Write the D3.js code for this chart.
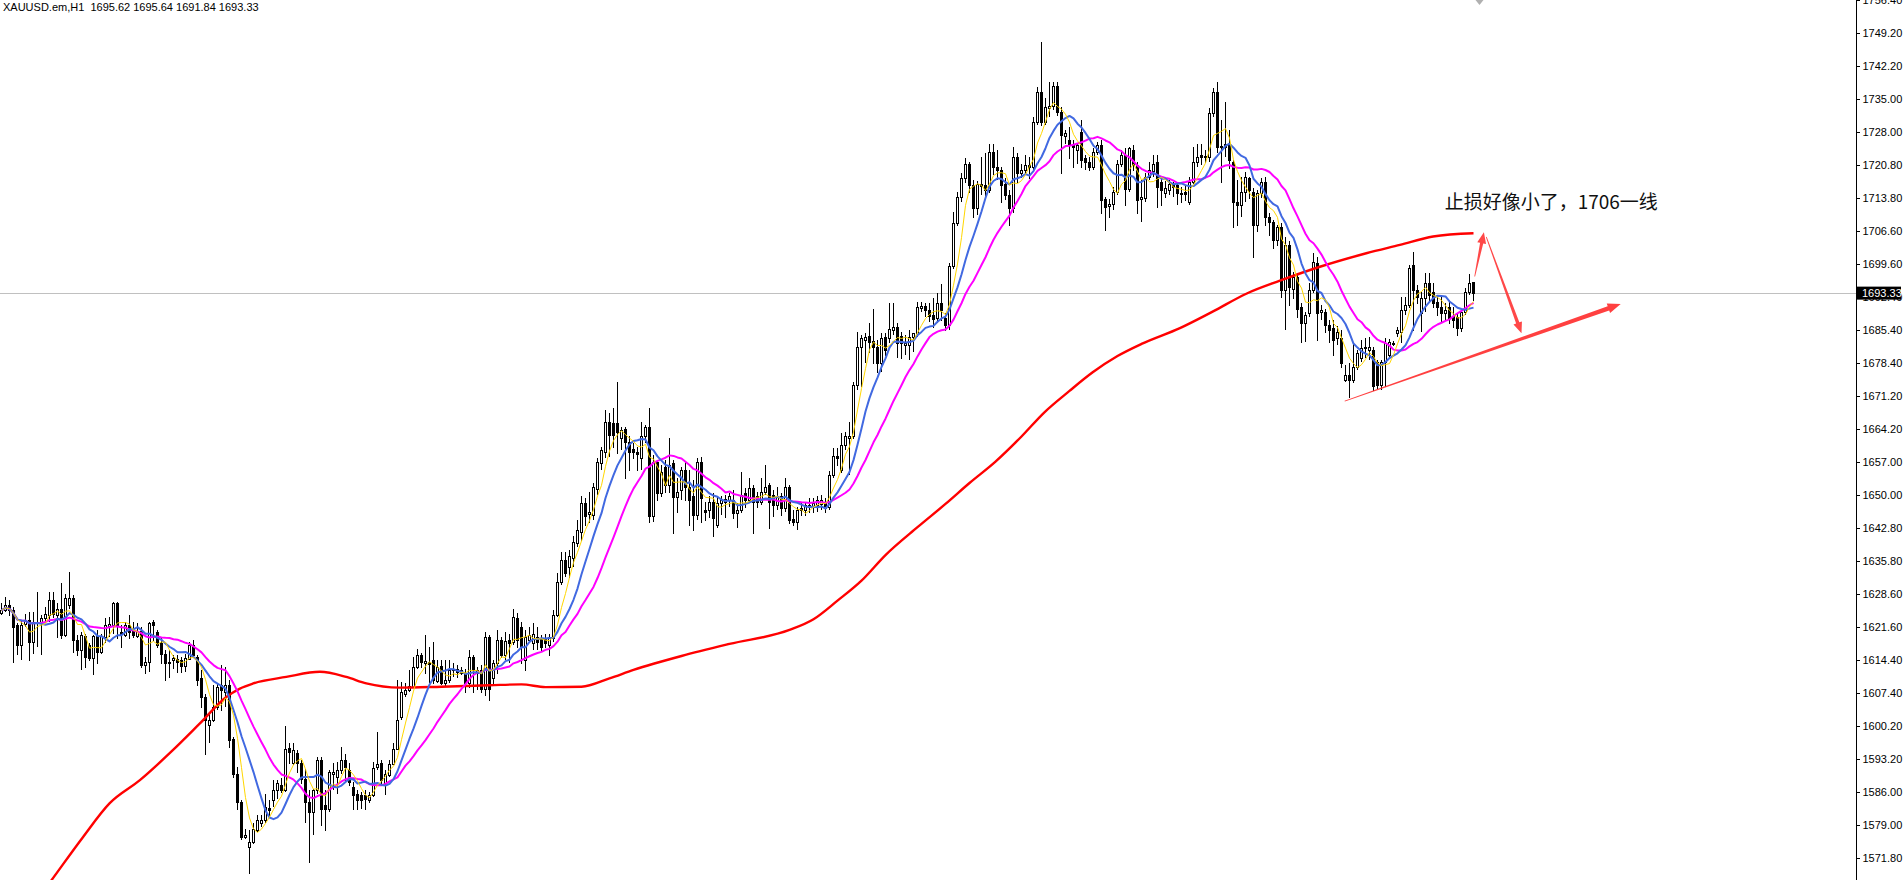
<!DOCTYPE html>
<html><head><meta charset="utf-8">
<script src="https://cdn.jsdelivr.net/npm/d3@7"></script>
<style>
html,body{margin:0;padding:0;background:#fff;overflow:hidden}
svg{display:block}
.axis text,.ttl{font-family:"Liberation Sans Narrow","Arial Narrow","Liberation Sans",Arial,sans-serif;font-size:11px;fill:#000}
</style>
</head><body>
<svg id="chart" width="1904" height="880"></svg>
<script>
// ---------------- data ----------------
const symbolTitle = "XAUUSD.em,H1";
const titleValues = ["1695.62","1695.64","1691.84","1693.33"];
const bidPrice = 1693.33;

const opens = [
1624.6,1625.1,1626.2,1625.1,1621.9,1617.6,1622.2,1623.0,1618.3,1622.3,1622.6,1623.4,1624.1,1627.3,1624.1,1625.5,1619.8,1626.2,1627.7,1618.7,
1616.5,1619.6,1617.6,1614.8,1619.6,1616.2,1619.4,1621.7,1621.9,1626.6,1620.5,1619.8,1621.9,1620.8,1619.6,1620.7,1613.3,1614.0,1622.6,1620.5,
1618.0,1615.8,1614.0,1614.4,1614.6,1614.4,1613.1,1614.6,1617.6,1615.1,1610.5,1606.5,1600.4,1601.5,1604.4,1609.0,1607.6,1609.0,1597.5,1590.0,
1583.9,1576.4,1574.3,1575.3,1577.8,1579.3,1580.0,1582.7,1584.3,1586.4,1587.5,1586.4,1595.6,1592.2,1594.5,1592.2,1588.9,1583.9,1581.8,1586.4,
1592.9,1583.2,1582.3,1590.0,1589.3,1590.7,1592.9,1590.7,1587.2,1585.7,1585.4,1585.4,1584.3,1585.4,1591.5,1592.2,1587.9,1589.7,1592.0,1595.4,
1602.2,1607.2,1607.9,1608.7,1613.0,1615.5,1613.8,1614.0,1614.5,1610.0,1613.1,1609.5,1610.1,1612.3,1612.6,1611.7,1611.7,1609.4,1615.1,1611.7,
1612.2,1608.3,1619.4,1610.5,1613.7,1618.7,1615.5,1618.7,1618.3,1623.5,1621.6,1614.4,1618.7,1618.0,1619.4,1619.1,1619.2,1617.6,1619.1,1624.1,
1631.3,1635.9,1634.5,1636.3,1639.5,1642.0,1648.1,1645.9,1645.6,1651.3,1656.7,1659.2,1665.7,1665.3,1665.3,1662.1,1664.2,1661.4,1659.9,1659.2,
1657.8,1662.5,1664.6,1645.3,1657.1,1650.3,1656.0,1652.1,1656.7,1649.4,1651.0,1655.3,1651.7,1649.6,1645.6,1657.1,1646.7,1646.7,1648.5,1643.5,
1648.1,1648.5,1648.8,1648.8,1646.0,1646.7,1650.3,1648.8,1651.4,1649.6,1648.5,1650.6,1652.1,1649.9,1647.8,1649.6,1647.1,1651.6,1644.7,1644.2,
1647.1,1646.8,1647.8,1647.4,1647.8,1648.0,1648.1,1647.4,1654.2,1658.2,1655.3,1660.7,1662.2,1662.5,1673.6,1681.8,1683.2,1684.1,1683.1,1681.8,
1678.2,1684.0,1683.6,1685.4,1686.1,1684.1,1682.1,1682.1,1684.0,1684.5,1690.1,1690.5,1689.8,1688.6,1687.9,1691.3,1687.9,1686.5,1699.2,1708.5,
1714.1,1718.0,1721.2,1716.6,1711.6,1716.8,1716.6,1715.5,1723.7,1720.5,1719.8,1716.9,1714.4,1711.6,1722.7,1719.1,1719.8,1720.9,1720.5,1730.2,
1736.6,1730.2,1733.2,1733.5,1737.9,1732.3,1727.1,1726.3,1725.2,1724.1,1728.0,1722.3,1721.6,1720.5,1723.7,1725.2,1713.5,1712.0,1712.6,1715.0,
1721.2,1723.0,1715.8,1724.1,1720.9,1713.6,1713.7,1718.3,1719.6,1721.5,1717.3,1714.8,1715.6,1716.8,1716.6,1714.9,1715.1,1713.0,1717.3,1721.5,
1723.0,1722.8,1722.5,1732.0,1736.6,1725.0,1724.8,1725.5,1721.6,1713.0,1712.3,1715.1,1718.0,1715.1,1708.0,1714.8,1717.3,1709.8,1708.7,1704.7,
1707.6,1694.0,1703.7,1694.3,1696.9,1690.4,1686.8,1689.0,1694.0,1699.9,1689.3,1689.3,1686.5,1685.8,1683.7,1683.6,1674.6,1675.7,1674.6,1677.5,
1679.3,1681.8,1681.1,1681.1,1678.6,1673.6,1678.6,1680.0,1682.5,1684.7,1685.0,1689.7,1690.8,1699.4,1694.0,1689.0,1692.2,1695.4,1693.6,1691.5,
1690.4,1689.0,1690.4,1688.4,1688.3,1685.8,1689.3,1693.6,1695.62];

const highs = [
1626.6,1628.0,1627.3,1625.9,1622.3,1623.0,1624.4,1624.8,1624.8,1629.1,1624.1,1625.9,1629.1,1629.1,1626.6,1630.9,1628.7,1633.4,1628.4,1619.8,
1620.5,1620.1,1618.0,1619.8,1620.8,1620.1,1623.4,1623.7,1626.9,1626.9,1621.9,1622.6,1624.1,1622.6,1622.3,1621.6,1615.1,1622.6,1623.0,1620.8,
1619.4,1616.5,1616.5,1615.5,1615.5,1615.1,1615.8,1618.3,1618.7,1615.5,1612.2,1607.2,1602.9,1609.0,1609.4,1613.3,1613.0,1610.1,1597.9,1591.5,
1584.3,1578.2,1577.8,1579.3,1581.1,1581.1,1585.7,1584.3,1588.6,1588.6,1589.0,1600.2,1596.5,1596.5,1595.1,1592.9,1591.1,1586.4,1586.8,1593.6,
1593.6,1586.4,1590.7,1592.2,1592.5,1595.8,1594.3,1592.2,1588.2,1586.4,1586.1,1586.4,1586.1,1592.5,1599.0,1592.9,1590.7,1592.9,1596.5,1610.1,
1609.7,1609.4,1612.2,1615.1,1616.9,1616.0,1619.8,1617.3,1618.3,1614.4,1614.4,1614.4,1614.4,1613.7,1613.3,1613.0,1612.6,1616.5,1615.5,1612.9,
1613.3,1620.5,1619.8,1614.4,1620.8,1619.4,1620.5,1620.1,1625.5,1624.5,1622.6,1620.8,1621.6,1622.3,1621.6,1619.8,1620.1,1620.1,1625.1,1633.1,
1637.7,1637.7,1638.1,1641.0,1644.5,1649.6,1649.2,1650.6,1652.4,1657.8,1660.3,1668.2,1667.5,1668.6,1674.3,1664.6,1664.6,1662.5,1661.0,1660.3,
1665.7,1665.0,1668.6,1658.5,1657.5,1656.3,1657.5,1662.1,1657.5,1653.5,1656.0,1657.1,1655.3,1653.1,1657.8,1658.0,1648.4,1649.6,1650.3,1649.6,
1649.6,1650.0,1650.3,1651.0,1648.1,1654.9,1651.4,1653.5,1652.1,1650.6,1653.5,1656.4,1652.4,1651.0,1651.7,1650.3,1653.5,1652.1,1646.7,1647.4,
1648.1,1648.5,1649.2,1649.2,1649.6,1649.9,1649.2,1655.0,1660.0,1660.0,1663.2,1663.5,1665.7,1674.3,1685.0,1684.3,1684.7,1686.8,1690.0,1683.2,
1684.7,1684.7,1691.1,1691.1,1687.0,1685.0,1684.3,1685.4,1684.8,1691.5,1691.5,1691.1,1691.1,1692.2,1693.3,1695.3,1689.0,1699.9,1710.8,1715.1,
1719.1,1722.3,1721.6,1717.6,1717.5,1722.7,1723.4,1725.5,1725.5,1724.1,1720.5,1718.0,1715.5,1724.8,1723.4,1721.2,1723.0,1722.7,1731.3,1737.7,
1747.4,1735.2,1738.8,1738.8,1738.8,1733.3,1728.4,1729.1,1726.3,1725.5,1730.5,1723.0,1722.7,1724.5,1725.9,1726.2,1714.1,1713.5,1716.2,1722.0,
1724.1,1724.5,1724.8,1725.2,1721.6,1717.6,1719.1,1721.6,1723.0,1723.0,1718.0,1717.4,1717.6,1717.3,1717.0,1716.2,1716.3,1718.2,1724.8,1725.5,
1725.5,1724.1,1733.1,1737.4,1738.8,1730.5,1734.5,1728.4,1722.0,1717.6,1718.4,1719.4,1718.4,1715.9,1715.5,1718.0,1718.4,1710.5,1709.0,1708.0,
1708.4,1705.4,1704.5,1697.9,1697.6,1691.1,1689.3,1695.4,1701.9,1701.2,1690.8,1690.0,1687.5,1687.5,1686.3,1685.4,1677.9,1678.2,1682.5,1681.1,
1683.2,1683.6,1684.0,1681.8,1678.9,1679.0,1683.6,1683.4,1683.0,1686.1,1692.6,1692.6,1699.4,1702.2,1695.1,1693.5,1697.6,1697.6,1695.4,1693.0,
1692.6,1691.1,1691.5,1690.4,1689.0,1690.0,1694.4,1697.4,1695.64];

const lows = [
1624.2,1624.8,1624.1,1614.0,1615.8,1614.4,1621.6,1614.4,1615.8,1617.3,1615.5,1622.3,1622.6,1623.7,1619.1,1619.1,1619.4,1625.5,1616.2,1615.5,
1612.2,1613.0,1614.4,1611.2,1613.7,1615.8,1618.0,1619.4,1620.1,1619.1,1617.3,1619.4,1619.1,1619.4,1619.1,1613.0,1611.5,1611.9,1618.7,1617.3,
1613.7,1610.1,1610.8,1612.6,1611.9,1611.9,1611.9,1614.4,1615.1,1609.0,1604.4,1594.3,1596.5,1601.1,1603.6,1603.6,1604.4,1595.8,1589.3,1582.5,
1576.0,1576.0,1568.5,1574.8,1577.5,1578.6,1579.3,1580.7,1582.9,1584.6,1586.1,1586.1,1592.2,1591.8,1590.4,1587.9,1579.6,1571.0,1576.8,1585.7,
1578.9,1577.8,1581.8,1586.4,1585.7,1590.0,1588.6,1587.5,1582.5,1582.5,1582.7,1582.5,1583.6,1585.0,1590.7,1587.9,1585.4,1589.3,1591.8,1595.1,
1601.5,1606.5,1607.6,1608.4,1612.6,1612.9,1611.5,1609.7,1609.4,1609.5,1609.2,1608.7,1609.4,1610.8,1610.8,1611.2,1607.6,1608.4,1607.6,1608.0,
1607.6,1606.8,1605.8,1609.0,1611.5,1615.1,1614.4,1614.0,1617.6,1617.3,1613.7,1612.0,1618.0,1616.5,1616.9,1616.5,1617.3,1615.3,1618.3,1623.7,
1630.5,1632.4,1632.0,1634.5,1638.8,1640.0,1643.5,1643.9,1644.6,1649.9,1655.3,1657.8,1658.2,1660.3,1658.9,1659.6,1653.5,1655.3,1657.8,1655.3,
1655.3,1661.0,1644.2,1644.2,1648.9,1649.5,1650.5,1650.3,1641.8,1646.0,1648.9,1648.8,1643.5,1642.4,1644.5,1644.2,1644.5,1644.9,1641.0,1642.8,
1645.6,1644.9,1647.4,1644.9,1642.8,1646.0,1647.4,1648.1,1641.7,1647.4,1647.8,1649.9,1642.8,1645.3,1646.7,1645.6,1646.3,1643.9,1643.5,1642.4,
1645.6,1645.3,1646.3,1646.0,1646.3,1646.7,1646.3,1646.7,1653.5,1656.4,1654.6,1659.6,1654.2,1662.0,1672.5,1673.2,1678.2,1680.7,1678.2,1676.4,
1676.4,1680.0,1682.6,1684.3,1679.6,1679.3,1680.0,1679.0,1680.7,1684.0,1689.2,1688.5,1687.4,1686.1,1686.8,1687.5,1685.4,1685.4,1698.5,1707.8,
1713.0,1717.0,1715.1,1709.8,1710.1,1714.6,1714.1,1714.8,1719.0,1717.8,1713.0,1713.5,1708.0,1710.5,1717.2,1718.0,1719.0,1718.0,1719.8,1729.5,
1729.5,1729.4,1731.3,1732.7,1731.6,1719.1,1725.5,1722.3,1720.5,1721.2,1720.5,1720.0,1719.8,1719.8,1723.0,1710.5,1706.9,1709.4,1711.2,1714.5,
1720.5,1712.3,1715.1,1719.8,1710.5,1708.7,1713.0,1717.6,1718.4,1711.9,1712.3,1713.7,1714.5,1714.2,1712.6,1713.0,1713.3,1712.3,1716.9,1720.5,
1721.2,1721.6,1721.6,1731.3,1723.7,1717.3,1722.5,1720.2,1707.6,1708.0,1709.8,1713.0,1713.7,1701.2,1706.5,1713.7,1708.0,1705.8,1703.0,1703.5,
1692.6,1685.4,1690.7,1692.0,1688.3,1682.9,1682.9,1688.3,1693.3,1683.2,1687.5,1685.0,1682.9,1680.0,1682.2,1677.5,1674.3,1671.1,1674.0,1676.8,
1678.6,1679.6,1679.0,1672.5,1673.0,1672.5,1673.2,1679.6,1682.0,1684.0,1682.5,1688.6,1690.1,1685.4,1691.1,1685.0,1689.3,1691.5,1690.4,1688.6,
1687.2,1687.5,1686.8,1686.1,1684.3,1685.0,1688.6,1693.0,1691.84];

const closes = [
1625.1,1626.2,1625.1,1621.6,1617.6,1621.9,1622.8,1618.3,1622.6,1622.6,1623.4,1624.3,1627.3,1624.4,1625.5,1619.8,1627.7,1627.7,1618.7,1616.5,
1619.8,1615.1,1614.8,1619.6,1616.2,1619.6,1621.9,1622.1,1626.6,1621.9,1620.0,1621.9,1620.5,1619.8,1620.7,1613.3,1614.0,1622.3,1621.9,1617.6,
1615.8,1613.7,1613.8,1614.8,1614.0,1613.1,1614.8,1617.6,1615.5,1610.1,1606.5,1601.5,1601.5,1604.4,1608.7,1607.9,1609.0,1597.2,1590.0,1583.9,
1576.4,1576.8,1575.3,1578.2,1580.0,1580.1,1582.9,1582.1,1586.4,1587.9,1586.4,1595.4,1594.7,1595.1,1592.2,1588.9,1583.9,1581.8,1586.4,1592.9,
1582.5,1582.5,1590.4,1590.4,1590.7,1592.9,1591.5,1588.2,1585.4,1584.4,1584.4,1584.6,1585.4,1591.3,1592.0,1588.6,1590.0,1592.0,1595.4,1601.5,
1607.6,1607.9,1608.8,1613.0,1615.5,1614.0,1614.2,1613.5,1610.1,1613.0,1609.5,1610.1,1612.2,1612.6,1611.9,1612.2,1609.4,1615.1,1612.2,1612.2,
1608.3,1619.4,1608.3,1613.7,1618.7,1615.5,1618.5,1618.0,1623.7,1618.7,1617.3,1619.4,1619.8,1620.1,1618.3,1617.3,1618.0,1619.3,1624.1,1631.3,
1635.9,1633.1,1636.7,1639.9,1642.4,1648.1,1645.3,1646.3,1651.7,1657.1,1659.6,1665.7,1662.8,1662.8,1663.5,1663.9,1661.4,1659.2,1659.2,1658.7,
1662.5,1664.6,1645.3,1657.1,1650.3,1654.9,1652.1,1656.4,1649.4,1650.6,1655.3,1651.7,1648.8,1645.6,1657.1,1649.2,1646.3,1648.5,1644.9,1648.1,
1648.8,1649.0,1649.6,1646.0,1646.7,1649.9,1648.8,1651.4,1648.5,1648.5,1650.6,1651.7,1648.5,1647.8,1649.6,1647.1,1651.6,1644.5,1644.2,1646.7,
1646.7,1647.8,1647.4,1648.1,1648.8,1648.8,1647.1,1654.2,1658.2,1657.8,1660.7,1662.5,1662.5,1673.6,1681.8,1683.6,1683.9,1682.9,1681.8,1678.2,
1683.6,1681.1,1685.7,1686.1,1682.5,1682.5,1682.5,1684.0,1684.7,1690.3,1690.5,1689.8,1688.4,1687.7,1691.3,1689.7,1686.5,1699.2,1708.5,1714.1,
1718.0,1721.2,1716.6,1711.6,1716.8,1716.4,1715.5,1723.7,1720.5,1719.8,1716.6,1714.4,1711.6,1722.7,1719.1,1719.8,1720.9,1720.5,1730.2,1736.6,
1730.2,1733.3,1733.6,1737.9,1732.3,1727.3,1727.8,1725.2,1724.8,1725.2,1722.0,1721.6,1720.5,1723.7,1725.2,1713.3,1711.9,1712.6,1715.0,1721.2,
1723.0,1715.8,1724.5,1720.9,1713.3,1713.9,1718.4,1719.8,1721.2,1716.2,1715.5,1715.9,1716.8,1716.2,1714.8,1714.6,1714.6,1717.3,1721.6,1722.5,
1722.5,1722.5,1732.0,1736.6,1724.8,1724.7,1725.5,1721.9,1713.0,1712.3,1715.1,1718.4,1715.5,1708.0,1714.8,1717.3,1709.8,1708.7,1704.7,1707.6,
1694.0,1703.7,1694.7,1696.9,1690.0,1686.8,1688.6,1694.0,1700.1,1689.1,1689.7,1686.5,1685.4,1683.2,1685.0,1678.2,1675.7,1674.6,1677.5,1680.4,
1681.5,1681.5,1681.8,1673.3,1673.6,1678.6,1682.5,1682.9,1682.7,1685.4,1689.7,1690.8,1698.7,1694.0,1692.6,1692.2,1695.4,1693.0,1691.1,1690.4,
1689.0,1689.7,1687.9,1687.5,1685.8,1689.3,1693.6,1695.6,1693.33];

// long moving average (red): bar index and value
const redIdx  = [0,12.5,20.4,27,34.6,42.9,49.6,56.2,59.6,62.9,71.2,79.6,86.2,91.2,99.6,110,122,130,136,145,152,158,170,182,197,203,209,215,221,229,236,242,248.5,255,260.6,267,272.8,279,285,294.6,302.9,311.2,319.6,329.6,341.2,349.6,357.9,368];
const redVals = [1552.5,1567.1,1576.4,1583.6,1588.6,1595.1,1600.8,1606.5,1608.3,1609.4,1610.8,1611.9,1610.8,1609.4,1608.5,1608.7,1609.0,1609.2,1608.6,1608.7,1610.5,1612.3,1615.3,1617.9,1620.9,1623.2,1627.2,1631.5,1637.0,1643.0,1648.0,1652.5,1657.1,1662.5,1667.6,1672.3,1676.3,1679.8,1682.4,1685.8,1689.4,1693.2,1696.0,1699.0,1701.9,1703.7,1705.5,1706.2];

const maPeriods = [20, 10, 5];
const maColors  = ["#ff00ff", "#4169e1", "#ffd700"];
const maWidths  = [2, 2, 1];

const tickLabels = ["1756.40","1749.20","1742.20","1735.00","1728.00","1720.80","1713.80","1706.60","1699.60","1692.40","1685.40","1678.40","1671.20","1664.20","1657.00","1650.00","1642.80","1635.80","1628.60","1621.60","1614.40","1607.40","1600.20","1593.20","1586.00","1579.00","1571.80"];

// annotations (bar index, price)
const noteText = "止损好像小了，1706一线";
const noteAnchor = [360.8, 1713.2];
const trendLine  = [[335.8, 1670.1], [404.8, 1691.0]];
const arrowUp    = [[368.3, 1696.9], [370.6, 1706.4]];
const arrowDown  = [[371.2, 1705.4], [380.0, 1684.7]];

// ---------------- drawing ----------------
const W = 1904, H = 880, axisX = 1856;
const svg = d3.select("#chart");
const x = d3.scaleLinear().domain([0, closes.length - 1]).range([1.5, 1.5 + 4 * (closes.length - 1)]);
const y = d3.scaleLinear().domain([1749.2, 1571.8]).range([33.3, 858.3]);

svg.append("rect").attr("width", W).attr("height", H).attr("fill", "#fff");
svg.append("defs").append("clipPath").attr("id", "plot")
  .append("rect").attr("x", 0).attr("y", 0).attr("width", axisX).attr("height", H);

const plot = svg.append("g").attr("clip-path", "url(#plot)");

// bid line
const by = Math.round(y(bidPrice)) + 0.5;
plot.append("line").attr("x1", 0).attr("x2", axisX).attr("y1", by).attr("y2", by)
  .attr("stroke", "#c0c0c0").attr("stroke-width", 1);

// candles
const cg = plot.append("g").attr("shape-rendering", "crispEdges");
closes.forEach((c, i) => {
  const o = opens[i], h = Math.max(highs[i], o, c), l = Math.min(lows[i], o, c);
  const col = Math.floor(x(i));
  const top = Math.round(y(Math.max(o, c))), bot = Math.round(y(Math.min(o, c)));
  const yh = Math.round(y(h)), yl = Math.round(y(l));
  const wx = col + 0.5;
  if (c >= o) {
    if (yh < top) cg.append("line").attr("x1", wx).attr("x2", wx).attr("y1", yh).attr("y2", top).attr("stroke", "#000");
    if (yl > bot) cg.append("line").attr("x1", wx).attr("x2", wx).attr("y1", bot + 1).attr("y2", yl).attr("stroke", "#000");
    cg.append("rect").attr("x", col - 0.5).attr("y", top + 0.5).attr("width", 2).attr("height", Math.max(bot - top, 1))
      .attr("fill", "#fff").attr("stroke", "#000").attr("stroke-width", 1);
  } else {
    cg.append("line").attr("x1", wx).attr("x2", wx).attr("y1", yh).attr("y2", yl + 1).attr("stroke", "#000");
    cg.append("rect").attr("x", col - 1).attr("y", top).attr("width", 3).attr("height", Math.max(bot - top + 1, 1)).attr("fill", "#000");
  }
});

// red long MA
const redPts = redIdx.map((d, i) => [d, redVals[i]]);
plot.append("path").datum(redPts)
  .attr("d", d3.line().x(d => x(d[0])).y(d => y(d[1])).curve(d3.curveMonotoneX))
  .attr("fill", "none").attr("stroke", "#ff0000").attr("stroke-width", 2.4);

// short MAs computed from closes
function sma(n) {
  return closes.map((_, i) => d3.mean(closes.slice(Math.max(0, i - n + 1), i + 1)));
}
maPeriods.forEach((p, k) => {
  plot.append("path").datum(sma(p))
    .attr("d", d3.line().x((d, i) => x(i)).y(d => y(d)))
    .attr("fill", "none").attr("stroke", maColors[k]).attr("stroke-width", maWidths[k])
    .attr("stroke-linejoin", "round");
});

// tapered arrows
function tapered(p0, p1, w0, w1, headL, headW, color) {
  const x0 = x(p0[0]), y0 = y(p0[1]), x1 = x(p1[0]), y1 = y(p1[1]);
  const dx = x1 - x0, dy = y1 - y0, len = Math.hypot(dx, dy);
  const ux = dx / len, uy = dy / len, nx = -uy, ny = ux;
  const bx = x1 - ux * headL, byy = y1 - uy * headL;
  const pts = [
    [x0 + nx * w0 / 2, y0 + ny * w0 / 2],
    [bx + nx * w1 / 2, byy + ny * w1 / 2],
    [bx + nx * headW / 2, byy + ny * headW / 2],
    [x1, y1],
    [bx - nx * headW / 2, byy - ny * headW / 2],
    [bx - nx * w1 / 2, byy - ny * w1 / 2],
    [x0 - nx * w0 / 2, y0 - ny * w0 / 2]
  ];
  svg.append("path").attr("d", "M" + pts.map(p => p.join(",")).join("L") + "Z")
    .attr("fill", color).attr("opacity", 0.92);
}
tapered(trendLine[0], trendLine[1], 0.8, 4.5, 13, 10, "#ff3030");
tapered(arrowUp[0], arrowUp[1], 0.8, 3.2, 11, 9, "#ff3838");
tapered(arrowDown[0], arrowDown[1], 0.8, 3.4, 11, 9, "#ff3838");

// note text
svg.append("text").attr("x", x(noteAnchor[0])).attr("y", y(noteAnchor[1]))
  .attr("dominant-baseline", "central")
  .attr("font-family", "'Noto Sans CJK SC','Noto Sans',sans-serif")
  .attr("font-size", 19).attr("fill", "#111").text(noteText);

// title
svg.append("text").attr("class", "ttl").attr("x", 3).attr("y", 10.5)
  .style("white-space", "pre").text(symbolTitle + "  " + titleValues.join(" "));

// right axis
svg.append("line").attr("x1", axisX + 0.5).attr("x2", axisX + 0.5).attr("y1", 0).attr("y2", H)
  .attr("stroke", "#000").attr("stroke-width", 1);
const axis = d3.axisRight(y)
  .tickValues(tickLabels.map(Number))
  .tickFormat((d, i) => tickLabels[i])
  .tickSize(3).tickPadding(3);
const ag = svg.append("g").attr("class", "axis").attr("transform", `translate(${axisX + 0.5},0)`).call(axis);
ag.select(".domain").remove();
ag.selectAll(".tick line").attr("stroke", "#000").attr("shape-rendering", "crispEdges");
ag.selectAll(".tick text").attr("font-family", null).attr("font-size", null);

// bid price label
const bg = svg.append("g");
bg.append("rect").attr("x", axisX + 1).attr("y", y(bidPrice) - 6.5).attr("width", 44).attr("height", 13).attr("fill", "#000");
bg.append("text").attr("class", "ttl").attr("x", axisX + 6).attr("y", y(bidPrice)).attr("dy", "0.35em")
  .style("fill", "#fff").text(bidPrice.toFixed(2));

// chart-shift marker at top
const sx = x(closes.length - 1) + 6;
svg.append("path").attr("d", `M${sx - 4},0L${sx + 4},0L${sx},5Z`).attr("fill", "#b0b0b0");
</script>
</body></html>
